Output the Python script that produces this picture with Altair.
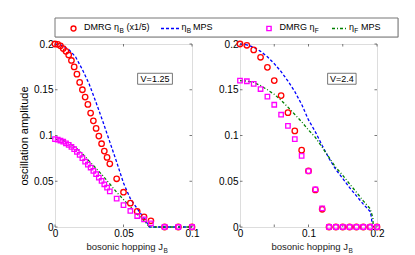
import altair as alt
import pandas as pd

# ---------------- data: left panel (V=1.25) ----------------
jb_dmrg_left = [0, 0.002, 0.004, 0.006, 0.008, 0.010, 0.012, 0.014, 0.016, 0.018,
                0.020, 0.022, 0.024, 0.026, 0.028, 0.030, 0.032, 0.034, 0.036, 0.038,
                0.040, 0.045, 0.050, 0.055, 0.060, 0.065, 0.070, 0.080, 0.090, 0.100]
etaB_dmrg_left = [0.200, 0.1996, 0.198, 0.195, 0.192, 0.188, 0.182, 0.175, 0.167, 0.158,
                  0.150, 0.142, 0.134, 0.1245, 0.116, 0.1077, 0.0994, 0.091, 0.083, 0.076,
                  0.069, 0.0527, 0.038, 0.026, 0.017, 0.011, 0.0068, 0.0, 0.0, 0.0]
etaF_dmrg_left = [0.096, 0.0955, 0.0945, 0.0932, 0.0915, 0.0898, 0.0876, 0.085, 0.082, 0.0788,
                  0.0752, 0.0715, 0.0682, 0.065, 0.0613, 0.0577, 0.054, 0.0504, 0.0467, 0.043,
                  0.039, 0.031, 0.024, 0.0175, 0.012, 0.0084, 0.004, 0.0, 0.0, 0.0]
jb_mps_left = [0, 0.005, 0.010, 0.015, 0.020, 0.025, 0.030, 0.035, 0.040, 0.045,
               0.050, 0.055, 0.060, 0.065, 0.069, 0.100]
etaB_mps_left = [0.200, 0.1985, 0.194, 0.186, 0.172, 0.156, 0.136, 0.115, 0.093, 0.071,
                 0.048, 0.031, 0.020, 0.0095, 0.0, 0.0]
etaF_mps_left = [0.096, 0.095, 0.092, 0.087, 0.080, 0.072, 0.064, 0.056, 0.047, 0.038,
                 0.030, 0.022, 0.014, 0.007, 0.0, 0.0]

# ---------------- data: right panel (V=2.4) ----------------
jb_dmrg_right = [0, 0.01, 0.02, 0.03, 0.04, 0.05, 0.06, 0.07, 0.08, 0.09, 0.10,
                 0.11, 0.12, 0.13, 0.14, 0.15, 0.16, 0.17, 0.18, 0.19, 0.20]
etaB_dmrg_right = [0.200, 0.1986, 0.1935, 0.1855, 0.1745, 0.160, 0.1436, 0.125, 0.105, 0.084,
                   0.0613, 0.0405, 0.0194, 0, 0, 0, 0, 0, 0, 0, 0]
etaF_dmrg_right = [0.160, 0.1593, 0.1565, 0.1508, 0.1424, 0.1336, 0.1227, 0.1106, 0.096, 0.0777,
                   0.061, 0.041, 0.0204, 0, 0, 0, 0, 0, 0, 0, 0]
jb_mps_right_B = [0, 0.01, 0.02, 0.03, 0.04, 0.05, 0.06, 0.07, 0.08, 0.09, 0.10,
                  0.11, 0.12, 0.13, 0.14, 0.15, 0.16, 0.17, 0.18, 0.19, 0.192, 0.193]
etaB_mps_right = [0.200, 0.199, 0.1965, 0.192, 0.186, 0.1785, 0.1698, 0.1595, 0.148, 0.134,
                  0.117, 0.104, 0.089, 0.075, 0.0627, 0.053, 0.043, 0.034, 0.025, 0.017,
                  0.010, 0.0]
jb_mps_right_F = [0, 0.01, 0.02, 0.03, 0.04, 0.05, 0.06, 0.07, 0.08, 0.09, 0.10,
                  0.11, 0.12, 0.13, 0.14, 0.15, 0.16, 0.17, 0.18, 0.19, 0.194, 0.1945]
etaF_mps_right = [0.160, 0.1595, 0.158, 0.1545, 0.150, 0.145, 0.1385, 0.131, 0.123, 0.115,
                  0.106, 0.098, 0.087, 0.076, 0.065, 0.0565, 0.047, 0.038, 0.0285, 0.020,
                  0.010, 0.0]

x_ticks_left = [0, 0.05, 0.1]
x_ticks_right = [0, 0.05, 0.1, 0.15, 0.2]
y_ticks = [0, 0.05, 0.1, 0.15, 0.2]
panel_labels = ["V=1.25", "V=2.4"]

FONT = "Liberation Sans"
AX = "#555555"
W, H = 137, 183


def panel(xd, red, mag, xb, blue, xf, green, xmax, xticks, vlabel, vbox, show_ytitle):
    xs = alt.Scale(domain=[0, xmax], nice=False, zero=False)
    ys = alt.Scale(domain=[0, 0.2], nice=False)
    xaxis = alt.Axis(values=xticks, format="~g", title=None, grid=False, ticks=False, tickSize=0,
                     labelPadding=1, domain=False, labelFlush=False)
    yaxis = alt.Axis(values=y_ticks, format="~g", grid=False, ticks=False, tickSize=0, domain=False,
                     labelPadding=2, title="oscillation amplitude" if show_ytitle else None,
                     titlePadding=4, labelFlush=False, titleFontWeight="normal")
    ddf = pd.DataFrame({"x": xd, "red": red, "mag": mag})
    bdf = pd.DataFrame({"x": xb, "y": blue})
    gdf = pd.DataFrame({"x": xf, "y": green})

    blue_l = alt.Chart(bdf).mark_line(color="#0000ff", strokeDash=[3, 2], strokeWidth=1.3).encode(
        x=alt.X("x:Q", scale=xs, axis=xaxis), y=alt.Y("y:Q", scale=ys, axis=yaxis))
    green_l = alt.Chart(gdf).mark_line(color="#008000", strokeDash=[3, 2, 1, 2], strokeWidth=1.3).encode(
        x=alt.X("x:Q", scale=xs), y=alt.Y("y:Q", scale=ys))
    red_p = alt.Chart(ddf).mark_point(shape="circle", color="#ff0000", size=30, strokeWidth=1.3,
                                      filled=False, opacity=1).encode(
        x=alt.X("x:Q", scale=xs), y=alt.Y("red:Q", scale=ys))
    mag_p = alt.Chart(ddf).mark_point(shape="square", color="#ff00ff", size=20, strokeWidth=1.3,
                                      filled=False, opacity=1).encode(
        x=alt.X("x:Q", scale=xs), y=alt.Y("mag:Q", scale=ys))

    vdf = pd.DataFrame({"x0": [vbox[0]], "x1": [vbox[1]], "y0": [vbox[2]], "y1": [vbox[3]],
                        "xc": [(vbox[0] + vbox[1]) / 2], "yc": [(vbox[2] + vbox[3]) / 2],
                        "t": [vlabel]})
    vrect = alt.Chart(vdf).mark_rect(fill="white", stroke=AX, strokeWidth=0.8).encode(
        x=alt.X("x0:Q", scale=xs), x2="x1", y=alt.Y("y0:Q", scale=ys), y2="y1")
    vtext = alt.Chart(vdf).mark_text(font=FONT, fontSize=9, color="black").encode(
        x=alt.X("xc:Q", scale=xs), y=alt.Y("yc:Q", scale=ys), text="t:N")

    tdf = pd.DataFrame({"a": ["bosonic hopping J"], "b": ["B"]})
    t_main = alt.Chart(tdf).mark_text(font=FONT, fontSize=9.5, align="right", baseline="alphabetic",
                                      color="#222").encode(
        x=alt.value(108), y=alt.value(H + 23), text="a:N")
    t_sub = alt.Chart(tdf).mark_text(font=FONT, fontSize=6.5, align="left", baseline="alphabetic",
                                     color="#222").encode(
        x=alt.value(108.5), y=alt.value(H + 26), text="b:N")

    xtdf = pd.DataFrame({"v": xticks})
    ytdf = pd.DataFrame({"v": y_ticks})
    tk = dict(color=AX, strokeWidth=0.8)
    xt_top = alt.Chart(xtdf).mark_rule(**tk).encode(x=alt.X("v:Q", scale=xs), y=alt.value(0), y2=alt.value(2.5))
    xt_bot = alt.Chart(xtdf).mark_rule(**tk).encode(x=alt.X("v:Q", scale=xs), y=alt.value(H), y2=alt.value(H - 2.5))
    yt_l = alt.Chart(ytdf).mark_rule(**tk).encode(y=alt.Y("v:Q", scale=ys), x=alt.value(0), x2=alt.value(2.5))
    yt_r = alt.Chart(ytdf).mark_rule(**tk).encode(y=alt.Y("v:Q", scale=ys), x=alt.value(W), x2=alt.value(W - 2.5))

    return alt.layer(blue_l, xt_top, xt_bot, yt_l, yt_r, green_l, red_p, mag_p, vrect, vtext,
                     t_main, t_sub).properties(width=W, height=H)


left = panel(jb_dmrg_left, etaB_dmrg_left, etaF_dmrg_left, jb_mps_left, etaB_mps_left,
             jb_mps_left, etaF_mps_left, 0.1, x_ticks_left, panel_labels[0],
             [0.0603, 0.0857, 0.156, 0.168], True)
right = panel(jb_dmrg_right, etaB_dmrg_right, etaF_dmrg_right, jb_mps_right_B, etaB_mps_right,
              jb_mps_right_F, etaF_mps_right, 0.2, x_ticks_right, panel_labels[1],
              [0.1279, 0.1695, 0.156, 0.168], False)

# ---------------- custom legend ----------------
LW, LH = 343, 19
one = pd.DataFrame({"a": [0]})
leg_texts = pd.DataFrame({
    "t": ["DMRG \u03b7", "B", "(x1/5)", "\u03b7", "B", "MPS", "DMRG \u03b7", "F", "\u03b7", "F", "MPS"],
    "x": [29, 64.5, 71.5, 126.5, 131.8, 138, 224.5, 259.8, 294, 299.3, 306],
    "sub": [0, 1, 0, 0, 1, 0, 0, 1, 0, 1, 0],
})
lbox = alt.Chart(one).mark_rect(fill="white", stroke="#777", strokeWidth=1).encode(
    x=alt.value(0), x2=alt.value(LW), y=alt.value(0), y2=alt.value(LH))
l_red = alt.Chart(one).mark_point(shape="circle", color="#ff0000", size=24, strokeWidth=1.4,
                                  opacity=1).encode(x=alt.value(18.5), y=alt.value(10.5))
l_mag = alt.Chart(one).mark_point(shape="square", color="#ff00ff", size=18, strokeWidth=1.4,
                                  opacity=1).encode(x=alt.value(214), y=alt.value(10.5))
l_blue = alt.Chart(one).mark_rule(color="#0000ff", strokeDash=[3, 2], strokeWidth=1.3).encode(
    x=alt.value(106), x2=alt.value(124), y=alt.value(10.5))
l_green = alt.Chart(one).mark_rule(color="#008000", strokeDash=[3, 2, 1, 2], strokeWidth=1.3).encode(
    x=alt.value(277), x2=alt.value(292), y=alt.value(10.5))
l_main = alt.Chart(leg_texts).transform_filter("datum.sub == 0").mark_text(
    font=FONT, fontSize=9, align="left", baseline="alphabetic", color="black").encode(
    x=alt.X("x:Q", scale=None), y=alt.value(12), text="t:N")
l_sub = alt.Chart(leg_texts).transform_filter("datum.sub == 1").mark_text(
    font=FONT, fontSize=6.5, align="left", baseline="alphabetic", color="black").encode(
    x=alt.X("x:Q", scale=None), y=alt.value(15), text="t:N")
legend = alt.layer(lbox, l_red, l_mag, l_blue, l_green, l_main, l_sub).properties(width=LW, height=LH)

chart = alt.vconcat(
    legend,
    alt.hconcat(left, right, spacing=18),
    spacing=0,
).properties(
    padding={"left": 10, "top": 9, "right": 0, "bottom": 0}
).configure_view(
    stroke=AX, strokeWidth=1
).configure_axis(
    labelFont=FONT, titleFont=FONT, labelFontSize=9, titleFontSize=9,
    labelColor="#222", titleColor="#222", titleFontWeight="normal"
).configure(background="white")

chart.save("out.html", embed_options={"renderer": "svg", "actions": False})
